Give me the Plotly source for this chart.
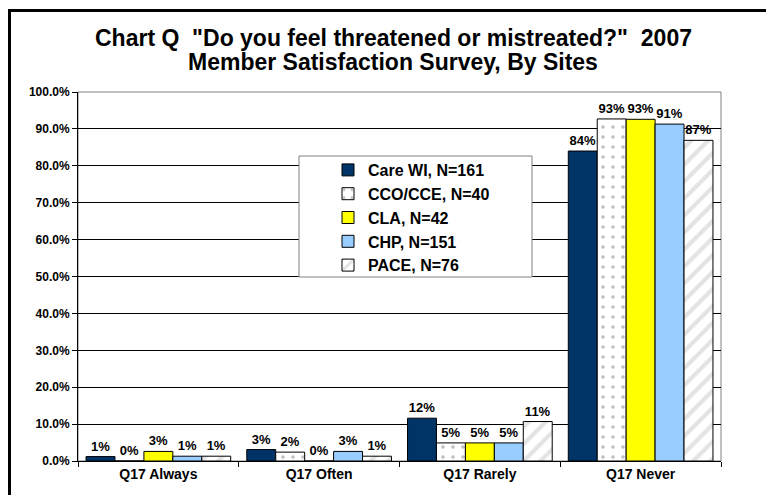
import plotly.graph_objects as go

categories = ["Q17 Always", "Q17 Often", "Q17 Rarely", "Q17 Never"]
series_names = ["Care WI, N=161", "CCO/CCE, N=40", "CLA, N=42", "CHP, N=151", "PACE, N=76"]
care_wi = [0.012, 0.031, 0.116, 0.840]
cco_cce = [0.000, 0.024, 0.049, 0.927]
cla = [0.026, 0.000, 0.049, 0.926]
chp = [0.013, 0.026, 0.049, 0.913]
pace = [0.013, 0.013, 0.107, 0.869]

W, H = 766, 495
ML, MR, MT, MB = 78, 45, 92, 34
PW, PH = W - ML - MR, H - MT - MB

def px(x):
    return (x - ML) / PW

def py(y):
    return (H - MB - y) / PH

FONT = "Liberation Sans, Arial, sans-serif"

styles = [
    dict(color="#003366"),
    dict(color="#FFFFFF", pattern=dict(shape=".", fgcolor="#808080", bgcolor="#FFFFFF", size=10, solidity=0.1)),
    dict(color="#FFFF00"),
    dict(color="#99CCFF"),
    dict(color="#FFFFFF", pattern=dict(shape="/", fgcolor="#C8C8C8", bgcolor="#FFFFFF", size=12, solidity=0.35)),
]
values = [care_wi, cco_cce, cla, chp, pace]

fig = go.Figure()
for name, vals, st in zip(series_names, values, styles):
    fig.add_trace(go.Bar(
        x=categories, y=vals, name=name,
        marker=dict(line=dict(color="#000000", width=1), **st),
        texttemplate="%{y:.0%}", textposition="outside", cliponaxis=False,
        textfont=dict(family=FONT, size=13, color="#000000", weight="bold"),
    ))

fig.update_layout(
    width=W, height=H,
    margin=dict(l=ML, r=MR, t=MT, b=MB, pad=0, autoexpand=False),
    paper_bgcolor="#FFFFFF", plot_bgcolor="#FFFFFF",
    barmode="group", bargap=0.1, bargroupgap=0,
    font=dict(family=FONT, color="#000000"),
    showlegend=True,
    legend=dict(
        x=px(328), y=py(153), xanchor="left", yanchor="top",
        bgcolor="rgba(0,0,0,0)", borderwidth=0,
        font=dict(family=FONT, size=16, color="#000000", weight="bold"),
        traceorder="normal",
    ),
    xaxis=dict(
        showline=True, linecolor="#000000", linewidth=1,
        ticks="outside", tickson="boundaries", ticklen=5, tickcolor="#000000",
        tickfont=dict(family=FONT, size=14, color="#000000", weight="bold"),
        showgrid=False, automargin=False,
    ),
    yaxis=dict(
        range=[0, 1], dtick=0.1, tickformat=".1%",
        showline=True, linecolor="#000000", linewidth=1,
        ticks="outside", ticklen=5, tickcolor="#000000",
        tickfont=dict(family=FONT, size=12, color="#000000", weight="bold"),
        showgrid=True, gridcolor="#000000", gridwidth=1,
        zeroline=False, automargin=False,
    ),
    shapes=[
        dict(type="rect", xref="paper", yref="paper", x0=0, x1=1, y0=0, y1=1,
             line=dict(color="#808080", width=1), layer="below"),
        dict(type="rect", xref="paper", yref="paper", x0=px(299), x1=px(532), y0=py(277), y1=py(156),
             line=dict(color="#808080", width=1), fillcolor="#FFFFFF", layer="above"),
        dict(type="rect", xref="paper", yref="paper", x0=px(9.5), x1=px(820), y0=py(540), y1=py(10.5),
             line=dict(color="#000000", width=3)),
    ],
    annotations=[
        dict(text="Chart Q  \"Do you feel threatened or mistreated?\"  2007", xref="paper", yref="paper",
             x=px(393), y=py(38), xanchor="center", yanchor="middle", showarrow=False,
             font=dict(family=FONT, size=23, color="#000000", weight="bold")),
        dict(text="Member Satisfaction Survey, By Sites", xref="paper", yref="paper",
             x=px(393), y=py(62), xanchor="center", yanchor="middle", showarrow=False,
             font=dict(family=FONT, size=23, color="#000000", weight="bold")),
    ],
)

fig.write_html("out.html", config={"displayModeBar": False},
               post_script="document.body.style.margin='0';document.body.style.overflow='hidden';")
